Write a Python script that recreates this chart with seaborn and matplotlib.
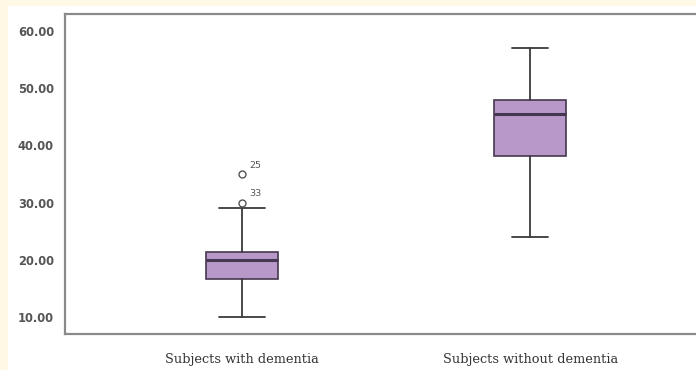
import matplotlib
matplotlib.use("Agg")
import matplotlib.pyplot as plt
import matplotlib.patches as mpatches
import seaborn as sns

# Five-number summaries per group
groups = ["Subjects with dementia", "Subjects without dementia"]
whisker_low = [10.0, 24.0]
q1 = [16.6, 38.1]
median = [20.0, 45.5]
q3 = [21.4, 48.0]
whisker_high = [29.0, 57.0]
outlier_values = [[30.0, 35.0], []]
outlier_ids = [["33", "25"], []]

yticks = [10, 20, 30, 40, 50, 60]

sns.set_theme(style="white")
plt.rcParams["font.family"] = ["DejaVu Sans"]

box_fill = "#b897c9"
box_edge = "#45374f"
line_col = "#3a3a3a"

fig = plt.figure(figsize=(6.96, 3.70), dpi=100)
fig.patch.set_facecolor("#fef9e5")
# white panel behind the plot
fig.add_artist(mpatches.Rectangle((8 / 696, 0), 1, 1 - 6 / 370,
                                  transform=fig.transFigure,
                                  facecolor="white", edgecolor="none", zorder=0))

ax = fig.add_axes([65 / 696, 1 - 334 / 370, 1 - 65 / 696, (334 - 14) / 370])
ax.set_facecolor("white")

stats = []
for i, g in enumerate(groups):
    stats.append(dict(label=g, whislo=whisker_low[i], q1=q1[i], med=median[i],
                      q3=q3[i], whishi=whisker_high[i], fliers=outlier_values[i]))

positions = [0, 1]
ax.bxp(stats, positions=positions, widths=0.252, patch_artist=True,
       boxprops=dict(facecolor=box_fill, edgecolor=box_edge, linewidth=1.2),
       medianprops=dict(color=box_edge, linewidth=2.2),
       whiskerprops=dict(color=line_col, linewidth=1.3),
       capprops=dict(color=line_col, linewidth=1.3),
       capwidths=[0.16, 0.124],
       flierprops=dict(marker="o", markersize=5, markerfacecolor="none",
                       markeredgecolor="#555555", markeredgewidth=1.0))

# case numbers beside the outliers
for pos, vals, ids in zip(positions, outlier_values, outlier_ids):
    for v, lab in zip(vals, ids):
        ax.annotate(lab, (pos, v), xytext=(5, 3), textcoords="offset points",
                    fontsize=6.8, color="#555555", ha="left", va="bottom")

ax.set_xlim(-0.615, 1.576)
ax.set_ylim(7.0, 63.0)
ax.set_yticks(yticks)
ax.set_yticklabels([f"{t:.2f}" for t in yticks], fontsize=8.3,
                   fontweight="bold", color="#555555")
ax.set_xticks(positions)
ax.set_xticklabels(groups, fontsize=9.3, family="DejaVu Serif", color="#333333")

ax.tick_params(axis="y", direction="out", length=7, width=1.2, color="#777777", pad=1)
ax.tick_params(axis="x", direction="out", length=5, width=1.2, color="#555555", pad=9)

for side in ["left", "top", "bottom"]:
    ax.spines[side].set_color("#8a8a8a")
    ax.spines[side].set_linewidth(1.6)
ax.spines["right"].set_visible(False)

fig.savefig("out.png", dpi=100, facecolor=fig.get_facecolor())
